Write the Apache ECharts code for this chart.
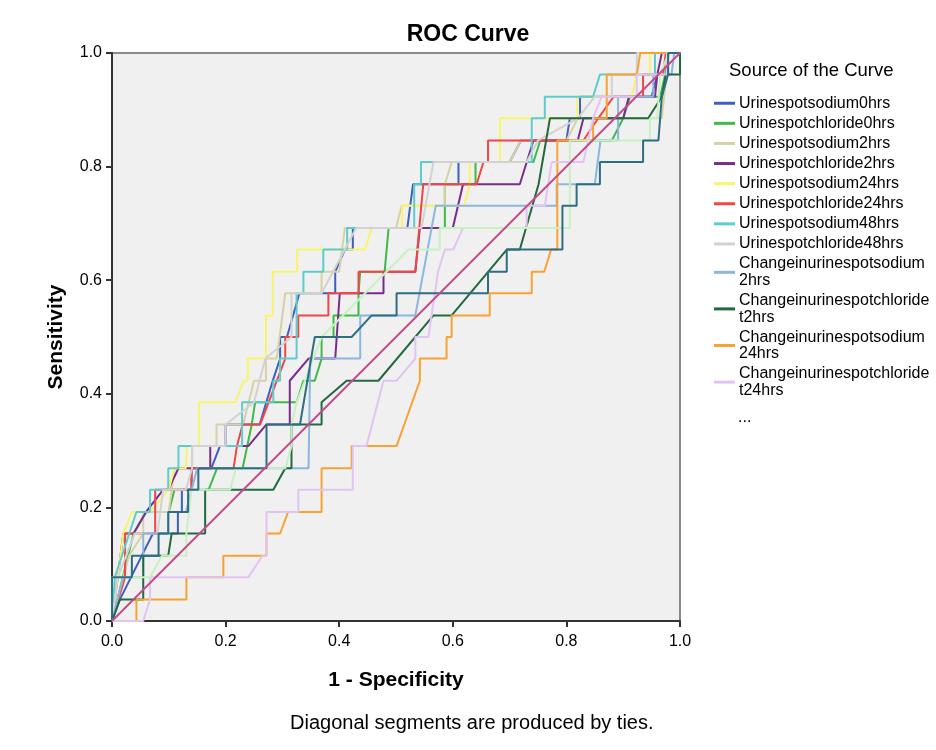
<!DOCTYPE html>
<html>
<head>
<meta charset="utf-8">
<title>ROC Curve</title>
<script src="https://cdn.jsdelivr.net/npm/echarts@6/dist/echarts.min.js"></script>
<style>
  html, body { margin: 0; padding: 0; background: #fff; }
  #chart { width: 936px; height: 750px; }
</style>
</head>
<body>
<div id="chart"></div>
<script>
// points are [1 - specificity, sensitivity]
const sodium0hrs = [[0,0],[0.014,0.038],[0.072,0.154],[0.116,0.154],[0.116,0.192],[0.123,0.192],[0.123,0.231],[0.14,0.231],[0.14,0.269],[0.175,0.269],[0.19,0.308],[0.2,0.308],[0.2,0.346],[0.26,0.346],[0.283,0.423],[0.296,0.462],[0.296,0.5],[0.308,0.5],[0.33,0.577],[0.393,0.577],[0.393,0.615],[0.41,0.654],[0.424,0.654],[0.424,0.692],[0.52,0.692],[0.53,0.769],[0.61,0.769],[0.61,0.808],[0.7,0.808],[0.72,0.846],[0.8,0.846],[0.806,0.885],[0.824,0.885],[0.824,0.923],[0.95,0.923],[0.96,0.962],[0.979,0.962],[0.979,1],[1,1]];
const chloride0hrs = [[0,0],[0.038,0.154],[0.06,0.192],[0.1,0.192],[0.11,0.231],[0.17,0.231],[0.185,0.269],[0.23,0.269],[0.246,0.346],[0.252,0.385],[0.325,0.385],[0.337,0.423],[0.357,0.423],[0.369,0.462],[0.369,0.5],[0.39,0.5],[0.39,0.538],[0.434,0.538],[0.434,0.577],[0.437,0.615],[0.48,0.615],[0.487,0.692],[0.586,0.692],[0.586,0.769],[0.64,0.769],[0.64,0.808],[0.742,0.808],[0.754,0.846],[0.88,0.846],[0.9,0.885],[0.912,0.923],[0.965,0.923],[0.974,0.962],[0.98,1],[1,1]];
const sodium2hrs = [[0,0],[0.03,0.115],[0.055,0.154],[0.055,0.192],[0.1,0.192],[0.11,0.269],[0.141,0.269],[0.141,0.308],[0.184,0.308],[0.184,0.346],[0.231,0.346],[0.25,0.423],[0.271,0.423],[0.271,0.462],[0.29,0.462],[0.3,0.538],[0.305,0.577],[0.369,0.577],[0.369,0.615],[0.4,0.615],[0.41,0.692],[0.5,0.692],[0.51,0.731],[0.586,0.731],[0.586,0.769],[0.598,0.808],[0.7,0.808],[0.72,0.846],[0.8,0.846],[0.82,0.885],[0.968,0.885],[0.98,1],[1,1]];
const chloride2hrs = [[0,0],[0.02,0.154],[0.038,0.154],[0.06,0.192],[0.09,0.231],[0.099,0.231],[0.117,0.269],[0.173,0.269],[0.173,0.308],[0.24,0.308],[0.272,0.346],[0.313,0.346],[0.313,0.423],[0.346,0.462],[0.393,0.462],[0.401,0.577],[0.478,0.577],[0.478,0.615],[0.534,0.615],[0.542,0.692],[0.6,0.692],[0.618,0.769],[0.718,0.769],[0.742,0.846],[0.82,0.846],[0.83,0.885],[0.9,0.885],[0.91,0.923],[0.956,0.923],[0.96,0.962],[0.968,1],[1,1]];
const sodium24hrs = [[0,0],[0.02,0.154],[0.035,0.192],[0.067,0.192],[0.1,0.231],[0.11,0.269],[0.13,0.269],[0.132,0.308],[0.153,0.308],[0.153,0.385],[0.217,0.385],[0.232,0.423],[0.239,0.423],[0.239,0.462],[0.271,0.462],[0.271,0.538],[0.283,0.538],[0.283,0.615],[0.326,0.615],[0.326,0.654],[0.445,0.654],[0.458,0.692],[0.511,0.692],[0.511,0.731],[0.62,0.731],[0.63,0.769],[0.63,0.808],[0.683,0.808],[0.683,0.885],[0.819,0.885],[0.819,0.923],[0.915,0.923],[0.924,0.962],[0.947,0.962],[0.947,1],[1,1]];
const chloride24hrs = [[0,0],[0.023,0.077],[0.023,0.154],[0.076,0.154],[0.076,0.231],[0.14,0.231],[0.14,0.269],[0.214,0.269],[0.22,0.308],[0.23,0.346],[0.261,0.346],[0.305,0.462],[0.305,0.5],[0.328,0.5],[0.328,0.538],[0.381,0.538],[0.381,0.577],[0.434,0.577],[0.434,0.615],[0.534,0.615],[0.548,0.769],[0.642,0.769],[0.654,0.808],[0.662,0.808],[0.662,0.846],[0.739,0.846],[0.83,0.846],[0.856,0.885],[0.883,0.923],[0.935,0.923],[0.935,0.962],[0.97,0.962],[0.975,1],[1,1]];
const sodium48hrs = [[0,0],[0.005,0.077],[0.043,0.192],[0.067,0.192],[0.067,0.231],[0.099,0.231],[0.099,0.269],[0.117,0.269],[0.117,0.308],[0.229,0.308],[0.229,0.385],[0.284,0.385],[0.284,0.423],[0.296,0.423],[0.296,0.462],[0.325,0.462],[0.325,0.577],[0.337,0.577],[0.337,0.615],[0.372,0.615],[0.372,0.654],[0.414,0.654],[0.414,0.692],[0.532,0.692],[0.532,0.769],[0.544,0.769],[0.544,0.808],[0.739,0.808],[0.739,0.885],[0.762,0.885],[0.762,0.923],[0.847,0.923],[0.859,0.962],[0.956,0.962],[0.956,1],[1,1]];
const chloride48hrs = [[0,0],[0.01,0.077],[0.04,0.154],[0.08,0.154],[0.09,0.231],[0.13,0.231],[0.141,0.269],[0.141,0.308],[0.2,0.308],[0.2,0.346],[0.25,0.385],[0.27,0.462],[0.316,0.5],[0.316,0.577],[0.369,0.577],[0.43,0.692],[0.545,0.692],[0.566,0.808],[0.73,0.808],[0.75,0.846],[0.82,0.885],[0.85,0.923],[0.88,0.923],[0.88,0.962],[0.924,0.962],[0.924,1],[1,1]];
const changeSodium2hrs = [[0,0],[0.02,0.077],[0.055,0.077],[0.055,0.154],[0.099,0.154],[0.099,0.192],[0.13,0.192],[0.15,0.269],[0.346,0.269],[0.349,0.462],[0.437,0.462],[0.437,0.538],[0.534,0.538],[0.57,0.731],[0.783,0.731],[0.783,0.769],[0.85,0.769],[0.86,0.846],[0.891,0.846],[0.891,0.923],[0.953,0.923],[0.953,0.962],[0.985,0.962],[0.99,1],[1,1]];
const changeChloride2hrs = [[0,0],[0.014,0.038],[0.055,0.038],[0.055,0.115],[0.099,0.115],[0.105,0.154],[0.164,0.154],[0.164,0.231],[0.284,0.231],[0.305,0.269],[0.316,0.269],[0.316,0.346],[0.369,0.346],[0.369,0.385],[0.413,0.423],[0.469,0.423],[0.566,0.538],[0.598,0.538],[0.695,0.654],[0.718,0.654],[0.751,0.769],[0.771,0.885],[0.944,0.885],[0.968,0.923],[0.975,0.962],[1,0.962],[1,1]];
const changeSodium24hrs = [[0,0],[0.043,0],[0.043,0.038],[0.131,0.038],[0.131,0.077],[0.196,0.077],[0.196,0.115],[0.272,0.115],[0.272,0.154],[0.296,0.154],[0.31,0.192],[0.369,0.192],[0.369,0.269],[0.422,0.269],[0.422,0.308],[0.501,0.308],[0.542,0.423],[0.542,0.462],[0.589,0.462],[0.589,0.5],[0.598,0.5],[0.598,0.538],[0.665,0.538],[0.665,0.577],[0.739,0.577],[0.739,0.615],[0.761,0.615],[0.773,0.654],[0.784,0.654],[0.784,0.846],[0.847,0.846],[0.847,0.885],[0.871,0.885],[0.871,0.962],[0.924,0.962],[0.93,1],[1,1]];
const changeChloride24hrs = [[0,0],[0.055,0],[0.067,0.038],[0.067,0.077],[0.24,0.077],[0.265,0.115],[0.272,0.115],[0.272,0.192],[0.328,0.192],[0.328,0.231],[0.424,0.231],[0.424,0.308],[0.448,0.308],[0.478,0.423],[0.501,0.423],[0.534,0.462],[0.534,0.5],[0.557,0.5],[0.574,0.615],[0.586,0.654],[0.601,0.654],[0.618,0.692],[0.73,0.692],[0.73,0.731],[0.762,0.731],[0.774,0.808],[0.83,0.808],[0.847,0.885],[0.862,0.923],[0.924,0.923],[0.924,0.962],[0.977,0.962],[0.977,1],[1,1]];
// two more curves hidden behind the "..." in the legend
const changeSodium48hrs = [[0,0],[0,0.077],[0.067,0.077],[0.088,0.115],[0.131,0.115],[0.131,0.154],[0.14,0.231],[0.208,0.231],[0.218,0.269],[0.305,0.269],[0.316,0.308],[0.316,0.346],[0.325,0.385],[0.369,0.5],[0.522,0.654],[0.577,0.654],[0.577,0.692],[0.806,0.692],[0.806,0.846],[0.947,0.846],[0.947,0.885],[0.96,0.885],[0.965,0.962],[0.98,1],[1,1]];
const changeChloride48hrs = [[0,0],[0,0.077],[0.035,0.077],[0.035,0.115],[0.082,0.115],[0.082,0.154],[0.099,0.154],[0.099,0.192],[0.134,0.192],[0.134,0.231],[0.152,0.231],[0.152,0.269],[0.272,0.269],[0.272,0.346],[0.331,0.346],[0.357,0.5],[0.422,0.5],[0.457,0.538],[0.501,0.538],[0.501,0.577],[0.662,0.577],[0.662,0.615],[0.695,0.615],[0.695,0.654],[0.793,0.654],[0.793,0.731],[0.818,0.731],[0.818,0.769],[0.859,0.769],[0.859,0.808],[0.935,0.808],[0.935,0.846],[0.962,0.846],[0.968,0.923],[0.979,0.962],[0.979,1],[1,1]];
const refLine = [[0,0],[1,1]];

const curveNames = ['Urinespotsodium0hrs','Urinespotchloride0hrs','Urinespotsodium2hrs','Urinespotchloride2hrs','Urinespotsodium24hrs','Urinespotchloride24hrs','Urinespotsodium48hrs','Urinespotchloride48hrs','Changeinurinespotsodium2hrs','Changeinurinespotchloridet2hrs','Changeinurinespotsodium24hrs','Changeinurinespotchloridet24hrs','Changeinurinespotsodium48hrs','Changeinurinespotchloridet48hrs','Reference Line'];
const curveData = [sodium0hrs, chloride0hrs, sodium2hrs, chloride2hrs, sodium24hrs, chloride24hrs, sodium48hrs, chloride48hrs, changeSodium2hrs, changeChloride2hrs, changeSodium24hrs, changeChloride24hrs, changeSodium48hrs, changeChloride48hrs, refLine];
const curveColors = ['#3f5fbf','#3dba48','#d6d2a4','#7a2c8a','#f8f56a','#f04646','#5ecccc','#d2d2d2','#8cb6de','#22693f','#f8a232','#e2c4f4','#c6f2c2','#2e6e82','#c24c8c'];

// legend only lists the first twelve, wrapped where SPSS wrapped them
const legendLabels = {
  'Changeinurinespotsodium2hrs': 'Changeinurinespotsodium\n2hrs',
  'Changeinurinespotchloridet2hrs': 'Changeinurinespotchloride\nt2hrs',
  'Changeinurinespotsodium24hrs': 'Changeinurinespotsodium\n24hrs',
  'Changeinurinespotchloridet24hrs': 'Changeinurinespotchloride\nt24hrs'
};

const font = '"Liberation Sans", Arial, sans-serif';
const chart = echarts.init(document.getElementById('chart'), null, {renderer: 'canvas'});

chart.setOption({
  animation: false,
  backgroundColor: '#fff',
  title: {
    text: 'ROC Curve',
    left: 'center',
    top: 18,
    textStyle: {fontFamily: font, fontSize: 23, fontWeight: 'bold', color: '#000'}
  },
  grid: {
    left: 112, top: 53, width: 568, height: 568,
    show: true,
    backgroundColor: '#f0f0f0',
    borderColor: '#8a8a8a',
    borderWidth: 2
  },
  legend: {
    orient: 'vertical',
    left: 709,
    top: 90,
    icon: 'rect',
    itemWidth: 21,
    itemHeight: 3,
    itemGap: 3.6,
    data: curveNames.slice(0, 12),
    formatter: name => legendLabels[name] || name,
    textStyle: {fontFamily: font, fontSize: 16, lineHeight: 16.5, color: '#000', padding: [0, 0, 0, -1]},
    selectedMode: false
  },
  xAxis: {
    type: 'value',
    min: 0, max: 1, interval: 0.2,
    name: '1 - Specificity',
    nameLocation: 'middle',
    nameGap: 49,
    nameTextStyle: {fontFamily: font, fontSize: 21, fontWeight: 'bold', color: '#000'},
    axisLine: {show: true, lineStyle: {color: '#333', width: 2}},
    axisTick: {show: true, length: 6, lineStyle: {color: '#333', width: 2}},
    axisLabel: {fontFamily: font, fontSize: 16, color: '#000', margin: 13, formatter: v => v.toFixed(1)},
    splitLine: {show: false}
  },
  yAxis: {
    type: 'value',
    min: 0, max: 1, interval: 0.2,
    name: 'Sensitivity',
    nameLocation: 'middle',
    nameGap: 45,
    nameTextStyle: {fontFamily: font, fontSize: 21, fontWeight: 'bold', color: '#000'},
    axisLine: {show: true, lineStyle: {color: '#333', width: 2}},
    axisTick: {show: true, length: 6, lineStyle: {color: '#333', width: 2}},
    axisLabel: {fontFamily: font, fontSize: 16, color: '#000', margin: 10, formatter: v => v.toFixed(1)},
    splitLine: {show: false}
  },
  graphic: [
    {
      type: 'text', left: 729, top: 61,
      style: {text: 'Source of the Curve', font: '18.5px ' + font, fill: '#000'}
    },
    {
      type: 'text', left: 738, top: 410,
      style: {text: '...', font: '16px ' + font, fill: '#000'}
    },
    {
      type: 'text', left: 290, top: 713,
      style: {text: 'Diagonal segments are produced by ties.', font: '20px ' + font, fill: '#000'}
    }
  ],
  series: curveData.map((pts, i) => ({
    name: curveNames[i],
    type: 'line',
    data: pts,
    showSymbol: false,
    color: curveColors[i],
    lineStyle: {width: 2, color: curveColors[i]},
    z: i === curveData.length - 1 ? 5 : 2
  }))
});
</script>
</body>
</html>
